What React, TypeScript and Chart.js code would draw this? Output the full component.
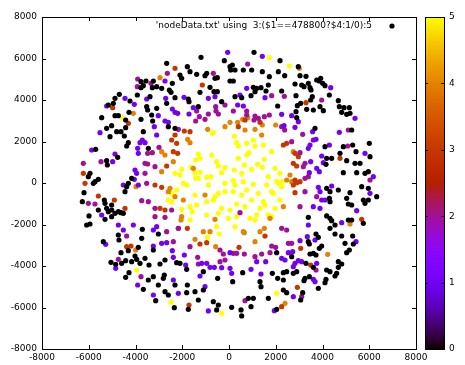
import React, { useEffect, useRef } from "react";
import { Chart, registerables } from "chart.js";

Chart.register(...registerables);

const titleText = "'nodeData.txt' using  3:($1==478800?$4:1/0):5";
const axisTicks = [-8000, -6000, -4000, -2000, 0, 2000, 4000, 6000, 8000];
const cbTicks = [0, 1, 2, 3, 4, 5];

const level0: number[][] = [
  [-2667,5767],[-2424,4803],[-3765,4884],[-3551,4916],[-3237,4916],[-3665,4691],[-3765,4595],[-3280,4595],[-3094,4643],[-2880,4562],[-2553,4482],[-3922,4241],[-3380,4161],[-2481,4370],[-2310,4113],[-2667,3840],[-4692,4273],[-4877,4081],[-4948,3840],[-4235,3952],[-5162,3759],[-3522,3679],[-3480,3519],[-3094,3599],[-4278,3406],[-5447,3149],[-4877,3245],[-4734,3245],[-4421,3037],[-3308,3278],[-3765,3069],[-3266,2989],[-5020,2764],[-5234,2635],[-4806,2475],[-4620,2475],[-4421,2667],[-2595,2716],[-2310,2635],[-3665,2475],
  [1070,6297],[-1198,6056],[-200,5895],[143,5687],[43,5606],[-1782,5606],[-1668,5365],[-2096,5205],[-2025,5044],[-1383,5237],[-955,5285],[-1027,5173],[-599,5044],[-499,5076],[71,5446],[257,5446],[613,5446],[970,5446],[1426,5365],[1726,5125],[2111,5365],[43,4916],[185,4916],[-813,4611],[-642,4402],[-499,4402],[1041,4611],[1184,4562],[1369,4595],[1683,4723],[1112,4402],[941,4209],[1583,4434],[2253,4434],[542,4113],[257,4161],[-1740,4048],[-1711,3920],[-1241,4370],[-314,3920],[-1312,3679],[2082,3711],
  [2182,5895],[2382,5173],[2966,5606],[3038,5173],[3294,5141],[2824,4771],[3109,4723],[3209,4643],[3394,4803],[3465,4595],[3508,4482],[3751,4964],[3922,5044],[3865,4916],[4007,4803],[4107,4691],[4293,4241],[2866,4209],[3565,4161],[3494,4000],[3066,3840],[2924,3727],[3323,3551],[3608,3519],[3893,3679],[4036,3486],[4677,3968],[4720,3679],[4920,3631],[5148,3631],[4820,3406],[5034,3310],[5177,3358],[2866,3438],[2895,3149],[3679,2635],[5248,2555],
  [-5091,2233],[-4478,2265],[-4307,1944],[-4378,1783],[-3451,1671],[-5704,1623],[-4763,1237],[-5234,1077],[-5205,868],[-5947,466],[-6018,306],[-4164,225],[-4307,-16],[-4378,-176],[-4449,-417],[-5733,64],[-5590,177],[-5804,-16],[-6203,-465],[-6274,-899],[-5333,-819],[-5305,-979],[-5020,-1060],[-5590,-1300],[-5234,-1220],[-5162,-1381],[-5020,-1300],[-4734,-1381],[-4877,-1461],[-4620,-1429],[-4521,-1461],[-5989,-1589],[-6089,-2023],[-5947,-1975],[-5305,-1750],[-5020,-1622],[-3708,-2232],
  [4107,1751],[4891,1751],[5291,1831],[6003,1912],[4178,1189],[4392,1189],[4749,1430],[5034,1077],[5433,1510],[6032,1269],[5391,948],[5605,948],[4150,900],[4891,498],[5462,498],[5818,466],[5961,547],[4178,-257],[4321,-417],[4677,-337],[5177,-465],[5961,-257],[5676,-176],[6318,-658],[4293,-738],[4321,-899],[5034,-738],[5105,-1011],[5248,-1060],[5747,-819],[5961,-819],[5818,-979],[3394,-1654],[4178,-1589],[4321,-1702],[4392,-1814],[4535,-2023],[4321,-2184],[5105,-1782],[5248,-1782],[5747,-1943],
  [-5376,-2827],[-4734,-2506],[-4706,-2747],[-3736,-2667],[-3023,-2458],[-4307,-3261],[-3879,-3100],[-3237,-3229],[-4620,-3357],[-5048,-3823],[-4848,-3919],[-4592,-3871],[-4421,-3743],[-4021,-3518],[-3950,-3678],[-4164,-3791],[-3808,-3871],[-3594,-3630],[-3422,-3951],[-2239,-3839],[-2738,-3710],[-2952,-3903],[-4278,-4321],[-4421,-4546],[-3451,-4674],[-3237,-4513],[-3023,-4915],[-2767,-4433],[-2809,-4594],[-2310,-4915],[-3665,-5124],[-3137,-5670],[-2738,-5236],[-2595,-5397],[-2339,-6007],
  [2039,-3357],[-2096,-3871],[-1811,-4160],[-1098,-4273],[585,-4321],[1854,-4353],[2082,-4594],[-485,-4594],[157,-4754],[-1782,-4915],[-1098,-5156],[-1454,-5236],[-1811,-5284],[1326,-4754],[1369,-4995],[-1312,-5638],[-670,-5718],[-456,-5879],[-1740,-6087],[827,-5557],[1041,-5557],[1683,-5557],[2039,-6087],[-528,-6119],[114,-5991],[514,-6119],[542,-6408],[941,-5959],
  [3722,-2458],[3822,-2618],[4535,-2458],[4820,-2554],[5291,-2554],[4963,-2907],[5319,-2940],[3394,-2827],[3437,-2940],[3965,-3036],[3865,-3148],[5148,-3229],[5034,-3357],[3465,-3421],[3608,-3389],[3722,-3469],[2681,-3550],[3294,-3871],[3608,-4064],[4677,-3791],[4820,-3903],[4677,-4064],[4606,-4353],[4535,-4481],[2325,-4321],[2467,-4273],[2752,-4353],[2895,-4273],[3437,-4513],[3252,-4594],[3209,-4706],[4178,-4192],[4321,-4273],[4150,-4642],[4107,-4803],[2325,-4674],[3822,-5076],[2325,-5156],[2467,-5284],[3152,-5284],[3066,-5638],
];

const level1: number[][] = [
  [-2738,4916],[-3522,4048],[-2709,4081],[-4449,4081],[-4050,3792],[-5234,3711],[-2424,3567],[-2310,3406],[-3023,3245],[-2738,2989],[-2595,2924],[-5519,2426],[-3195,2716],
  [-57,6297],[1426,6104],[756,4562],[1540,4113],[471,4241],[-1925,4129],[-884,4081],[-599,4161],[-1526,3631],[-2196,3358],[-1711,3326],[371,3759],[613,3711],[2253,3310],
  [4350,4595],[5391,3117],[2966,2956],[2681,3245],[2353,2764],[2824,2683],[3579,2475],[4720,2442],
  [-3708,2072],[-3594,1944],[-3808,1944],[-3094,2313],[-3907,1671],[-3879,1430],[-5875,1590],[-4877,1398],[-4977,1028],[-4021,627],[-3950,466],[-4050,177],[-4521,-96],[-3879,-96],[-5447,-1541],[-4734,-2023],[-4521,-2264],[-4093,-2023],[-3094,-2103],[-3237,-2264],
  [3608,2072],[3722,2104],[3465,1831],[3394,1671],[4293,1831],[3965,1301],[5818,1430],[3494,1028],[4036,980],[3751,707],[3865,547],[6175,306],[3437,498],[3822,-208],[3893,-417],[4392,-144],[6032,-497],[3965,-819],[4107,-819],[5462,-1333],[3608,-1140],[3893,-1220],[3394,-2023],[4820,-1911],
  [-5276,-2956],[-3237,-3036],[-2881,-2907],[-2667,-2875],[-2424,-3261],[-2381,-3582],[-4848,-4112],[-2381,-4674],[-3907,-4915],[-3237,-5397],[-2168,-5316],
  [43,-3357],[-1911,-3469],[-1169,-3871],[-955,-3871],[43,-4112],[114,-4353],[1184,-3791],[1569,-3791],[941,-4160],[-1854,-3951],[-813,-4064],[-627,-4064],[-314,-4080],[-1241,-4481],[1369,-4385],[-1027,-4995],[1939,-6151],[-884,-6167],
  [5433,-2827],[3351,-2586],[3679,-2747],[3038,-2779],[2253,-3630],[2396,-3710],[2539,-3357],[2724,-3309],[2824,-3871],[2752,-4032],[2966,-3743],[3109,-3791],[3751,-3871],[3608,-4642],[3679,-4754],[2752,-5477],
];

const level2: number[][] = [
  [-2638,5285],[-3907,5012],[-3337,4803],[-3922,4643],
  [799,5735],[-670,5285],[1825,4209],[2367,4177],[-1383,3470],[-1269,3197],[-1027,3069],[-1426,2989],[-884,3326],[-570,3679],[-556,3470],[-171,3759],[-456,3326],[756,3470],[756,3278],[185,3470],[1112,3229],[1255,3117],[1512,3197],[1070,3037],[1726,3278],[-2167,2587],[2253,2716],
  [3965,4000],[2382,2555],[5105,2555],[3152,2346],
  [-2995,1719],[-3480,1430],[-3280,1462],[-5476,1028],[-6232,948],[-3594,948],[-3480,916],[-3594,466],[-3166,788],[-3522,-16],[-6018,-979],[-5733,-1011],[-3736,-851],[-3451,-899],[-3166,-1220],[-2453,-1300],[-3166,-1622],[-2738,-1654],[-2168,-2184],
  [471,-1429],
  [2681,1992],[5077,1783],[3038,1462],[3252,948],[3180,788],[6032,145],[3252,225],[3394,306],[3252,-417],[3751,-658],[3038,-1140],[2253,-2184],[2467,-2264],
  [-4378,-2554],[-2667,-2345],[-2381,-2827],[-4734,-3678],[-3765,-4513],
  [-1668,-3068],[-385,-3229],[-242,-3421],[185,-3389],[328,-3389],[656,-3421],[-171,-3710],[1825,-3036],[1996,-3100],[1754,-3357],[1398,-3421],[-1340,-3582],[-1312,-3903],[-385,-3791],[1112,-3550],[685,-5670],
  [2539,-2907],[2681,-2907],[3722,-4192],[3109,-5477],
];

const level3: number[][] = [
  [-2310,5526],[-4977,3631],[-4307,2876],
  [-1141,4723],[685,3037],[399,2716],[-1668,2475],[-1911,2507],[1326,2924],
  [3294,3872],
  [-2310,2313],[-2453,2072],[-2239,1912],[-2381,1510],[-2196,1430],[-2667,820],[-6232,466],[-6160,-16],[-3166,-96],[-2880,-208],[-5590,-626],[-4906,-819],[-4449,-1220],[-2952,-1220],[-2738,-1300],
  [-1782,-2184],[-2167,-2184],
  [2325,1831],[2467,1912],[2824,1430],[2966,1269],[4749,1189],[2752,948],[2895,820],[2824,145],[2895,16],[3038,64],[2752,-96],[2824,-465],[5676,-1750],
  [-4378,-3068],[-4193,-3036],
  [1540,-2554],[-1241,-2940],[-955,-2875],[428,-3100],[-1711,-5879],[2253,-5959],
  [3066,-3148],[3494,-3951],[2924,-5027],
];

const level4: number[][] = [
  [-2952,5076],[-4093,3358],
  [585,3069],[799,3149],[371,2924],[43,2924],[-171,2716],[-913,2587],[1112,2587],[1426,2796],[685,2555],[1996,2796],
  [3009,5526],
  [-2880,1510],[-2738,1350],[-2381,1028],[-2880,547],[-3979,-176],[-2524,-257],[-2595,-417],[-2310,-658],
  [-1768,2104],[-1668,1944],[1398,2313],[-1526,707],[-1027,-578],[-1954,-819],[-2025,-1622],[-2053,-1782],[-599,-1750],[-1098,-2344],[613,-2344],[1512,-2184],[1754,-1702],
  [2752,1510],[2610,386],[2467,145],[2681,64],[2325,-1140],[5177,-1975],
  [-3993,-3229],
  [-813,-2345],[656,-2393],[1326,-2345],[-1454,-2715],[-570,-3068],[1112,-2827],
  [4221,-3437],[2396,-5798],
];

const level5: number[][] = [
  [-4563,3149],[1726,6040],[-670,2426],[2581,5638],
  [-2310,466],[-2453,-497],[-2239,-337],[-2595,-819],[-2453,-899],
  [-713,2393],[228,2265],[328,1944],[399,1783],[756,1912],[1041,2072],[1112,1783],[1469,1831],[-1312,1398],[-1241,1189],[-741,1350],[-1426,1109],[756,1350],[856,1462],[399,1189],[1512,1141],[1825,1510],[-528,1028],[-456,820],[-2025,659],[-2096,386],[-1626,755],[-1241,514],[-955,273],[-770,306],[-1426,225],[-1312,225],[-314,498],[-171,739],[228,627],[542,466],[656,868],[970,659],[1226,900],[1426,755],[1683,306],[1968,707],[-171,-16],[185,113],[257,-96],[1041,-64],[1612,-96],[1825,-417],[2039,64],[-599,-658],[-670,-819],[-456,-497],[-171,-417],[185,-417],[542,-578],[1255,-497],[1897,-497],[-1668,-1140],[-1383,-1060],[-314,-1220],[43,-1300],[685,-1140],[-1668,-1782],[-456,-1461],[1683,-1541],[1825,-1622],[-528,-2103],[1112,-1782],[1326,-1220],[-1454,-578],[-955,-899],[970,-819],[1540,-1060],[1968,-1220],[-1811,-96],[-884,-96],[756,-337],[-29,-1702],[-955,-1541],[328,-1622],
  [-1954,-16],[613,64],[328,-1011],[1469,-899],[-1568,-1381],[-2025,-1269],[-1454,498],[2253,-176],[2111,-16],[257,-2103],[899,-1702],[1184,-1541],
  [2182,466],[2253,64],[2182,-819],
  [-3950,-4192],[-2481,-5750],
  [-913,-2618],[-413,-2458],[2039,-5316],[-314,-6280],
];

const levels = [level0, level1, level2, level3, level4, level5];

const FONT = "DejaVu Sans";

function pal(v: number): string {
  const t = Math.min(1, Math.max(0, v / 5));
  const r = Math.sqrt(t);
  const g = t * t * t;
  const b = Math.max(0, Math.sin(2 * Math.PI * t));
  return `rgb(${Math.round(r * 255)},${Math.round(g * 255)},${Math.round(b * 255)})`;
}

const framePlugin = {
  id: "gnuFrame",
  afterDraw(chart: any) {
    const ctx = chart.ctx as CanvasRenderingContext2D;
    const a = chart.chartArea;
    const xs = chart.scales.x;
    const ys = chart.scales.y;
    ctx.save();
    ctx.strokeStyle = "#000";
    ctx.lineWidth = 1;
    ctx.strokeRect(Math.round(a.left) + 0.5, Math.round(a.top) + 0.5, Math.round(a.right - a.left), Math.round(a.bottom - a.top));
    const tl = 4;
    ctx.beginPath();
    for (const v of axisTicks) {
      const px = Math.round(xs.getPixelForValue(v)) + 0.5;
      ctx.moveTo(px, a.bottom); ctx.lineTo(px, a.bottom - tl);
      ctx.moveTo(px, a.top); ctx.lineTo(px, a.top + tl);
      const py = Math.round(ys.getPixelForValue(v)) + 0.5;
      ctx.moveTo(a.left, py); ctx.lineTo(a.left + tl, py);
      ctx.moveTo(a.right, py); ctx.lineTo(a.right - tl, py);
    }
    ctx.stroke();

    // color box
    const cx0 = 425, cx1 = 444;
    const top = Math.round(a.top), bot = Math.round(a.bottom);
    for (let py = top; py < bot; py++) {
      ctx.fillStyle = pal((5 * (bot - py - 0.5)) / (bot - top));
      ctx.fillRect(cx0, py, cx1 - cx0, 1);
    }
    ctx.strokeStyle = "#000";
    ctx.strokeRect(cx0 + 0.5, top + 0.5, cx1 - cx0, bot - top);
    ctx.beginPath();
    ctx.font = `9px "${FONT}"`;
    ctx.fillStyle = "#000";
    ctx.textAlign = "left";
    ctx.textBaseline = "middle";
    for (const v of cbTicks) {
      const py = bot - ((bot - top) * v) / 5;
      const yy = Math.round(py) + 0.5;
      if (v > 0 && v < 5) {
        ctx.moveTo(cx0, yy); ctx.lineTo(cx0 + 3, yy);
        ctx.moveTo(cx1, yy); ctx.lineTo(cx1 - 3, yy);
      }
      ctx.fillText(String(v), 449, py);
    }
    ctx.stroke();

    // key
    ctx.textAlign = "right";
    ctx.fillText(titleText, 372, 26);
    ctx.beginPath();
    ctx.fillStyle = "#000";
    ctx.arc(392, 26, 2.6, 0, Math.PI * 2);
    ctx.fill();
    ctx.restore();
  },
};

export default function App() {
  const ref = useRef<HTMLCanvasElement | null>(null);
  useEffect(() => {
    if (!ref.current) return;
    Chart.defaults.font.family = FONT;
    Chart.defaults.font.size = 9;
    Chart.defaults.color = "#000";
    const chart = new Chart(ref.current, {
      type: "scatter",
      data: {
        datasets: levels.map((pts, v) => ({
          label: String(v),
          data: pts.map((p) => ({ x: p[0], y: p[1] })),
          pointRadius: 2.6,
          pointHoverRadius: 2.6,
          pointBorderWidth: 0,
          pointBackgroundColor: pal(v),
          borderColor: pal(v),
          showLine: false,
        })),
      },
      options: {
        responsive: false,
        animation: false,
        devicePixelRatio: 1,
        layout: { padding: { top: 17, right: 49, left: 0, bottom: 0 } },
        plugins: { legend: { display: false }, tooltip: { enabled: false }, title: { display: false } },
        scales: {
          x: {
            type: "linear",
            min: -8000,
            max: 8000,
            afterFit: (s: any) => { s.height = 16; },
            afterBuildTicks: (s: any) => { s.ticks = axisTicks.map((v) => ({ value: v })); },
            grid: { display: false, drawTicks: false },
            border: { display: false },
            ticks: { padding: 3, maxRotation: 0, autoSkip: false, callback: (v: any) => String(v), font: { size: 9, family: FONT }, color: "#000" },
          },
          y: {
            type: "linear",
            min: -8000,
            max: 8000,
            afterFit: (s: any) => { s.width = 42; },
            afterBuildTicks: (s: any) => { s.ticks = axisTicks.map((v) => ({ value: v })); },
            grid: { display: false, drawTicks: false },
            border: { display: false },
            ticks: { padding: 5, autoSkip: false, callback: (v: any) => String(v), font: { size: 9, family: FONT }, color: "#000" },
          },
        },
      },
      plugins: [framePlugin],
    });
    return () => chart.destroy();
  }, []);
  return (
    <div style={{ position: "absolute", left: 0, top: 0, width: 465, height: 365, background: "#fff" }}>
      <canvas ref={ref} width={465} height={365} />
    </div>
  );
}
